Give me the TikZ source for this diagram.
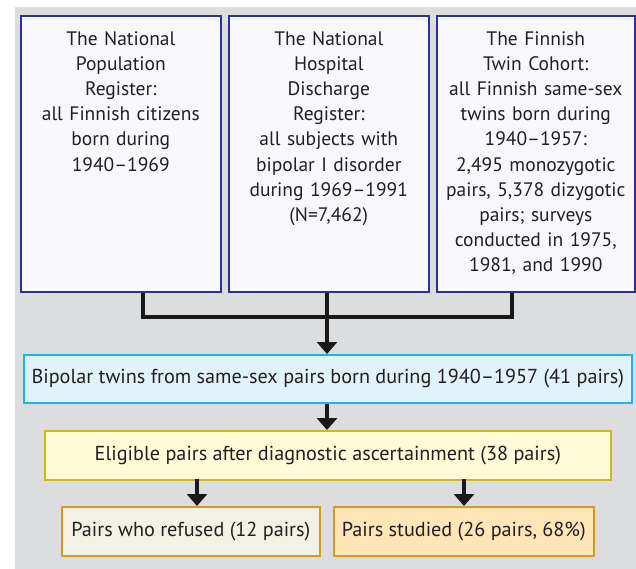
\documentclass[tikz,border=0pt]{standalone}
\usepackage{fontspec}
\setmainfont{PT Sans}
\usetikzlibrary{arrows.meta}
\definecolor{bgray}{HTML}{DCDDDE}
\definecolor{topfill}{HTML}{F8F8FC}
\definecolor{topdraw}{HTML}{2E3192}
\definecolor{bluefill}{HTML}{E0F3FB}
\definecolor{bluedraw}{HTML}{1EB4EA}
\definecolor{yelfill}{HTML}{FFFAD8}
\definecolor{yeldraw}{HTML}{CDBA1E}
\definecolor{lfill}{HTML}{F2F1E6}
\definecolor{rfill}{HTML}{FDE5B8}
\definecolor{odraw}{HTML}{D69A20}
\definecolor{txt}{HTML}{231F20}
\begin{document}
\begin{tikzpicture}[x=1pt,y=-1pt,
  box/.style={draw, line width=1.6pt, inner sep=0pt, anchor=north west},
  toptext/.style={anchor=north, text width=194pt, align=center, inner sep=0pt,
    font=\fontsize{19.5}{25.2}\selectfont, text=txt},
  midtext/.style={font=\fontsize{20.2}{22}\selectfont, text=txt, inner sep=0pt},
  conn/.style={line width=4pt, draw=black!90},
  arr/.style={conn, -{Triangle[width=20pt,length=12pt]}}]
\useasboundingbox (0,0) rectangle (636,569);
\fill[bgray] (15,7.5) rectangle (636,569);
% top boxes
\node[box, draw=topdraw, fill=topfill, minimum width=200pt, minimum height=276pt] (b1) at (20,15) {};
\node[box, draw=topdraw, fill=topfill, minimum width=200pt, minimum height=276pt] (b2) at (228,15) {};
\node[box, draw=topdraw, fill=topfill, minimum width=198pt, minimum height=276pt] (b3) at (436,15) {};
\node[toptext] (t1) at ([yshift=-16pt]b1.north) {The National\\Population\\Register:\\all Finnish citizens\\born during\\1940--1969};
\node[toptext] (t2) at ([yshift=-16pt]b2.north) {The National\\Hospital\\Discharge\\Register:\\all subjects with\\bipolar I disorder\\during 1969--1991\\(N=7,462)};
\node[toptext] (t3) at ([yshift=-16pt]b3.north) {The Finnish\\Twin Cohort:\\all Finnish same-sex\\twins born during\\1940--1957:\\2,495 monozygotic\\pairs, 5,378 dizygotic\\pairs; surveys\\conducted in 1975,\\1981, and 1990};
% lower boxes
\node[box, draw=bluedraw, fill=bluefill, minimum width=608pt, minimum height=48pt] (bp) at (23,354) {};
\node[midtext] (bpt) at (bp.center) {Bipolar twins from same-sex pairs born during 1940--1957 (41 pairs)};
\node[box, draw=yeldraw, fill=yelfill, minimum width=566pt, minimum height=49pt] (el) at (44,430) {};
\node[midtext] (elt) at (el.center) {Eligible pairs after diagnostic ascertainment (38 pairs)};
\node[box, draw=odraw, fill=lfill, minimum width=258pt, minimum height=49pt] (rf) at (61,506) {};
\node[midtext] (rft) at (rf.center) {Pairs who refused (12 pairs)};
\node[box, draw=odraw, fill=rfill, minimum width=260pt, minimum height=49pt] (st) at (333,506) {};
\node[midtext] (stt) at (st.center) {Pairs studied (26 pairs, 68\%)};
% connectors
\coordinate (j1) at (143,317);
\coordinate (j2) at (327,317);
\coordinate (j3) at (512,317);
\draw[conn] (b1.south -| j1) -- (j1) -- (j3) -- (b3.south -| j3);
\draw[conn] (b2.south -| j2) -- (j2);
\draw[arr] ([yshift=2pt]j2) -- (bp.north -| j2);
\draw[arr] (bp.south -| j2) -- (el.north -| j2);
\coordinate (k1) at (197,479);
\coordinate (k2) at (464,479);
\draw[arr] (k1) -- (rf.north -| k1);
\draw[arr] (k2) -- (st.north -| k2);
\end{tikzpicture}
\end{document}
